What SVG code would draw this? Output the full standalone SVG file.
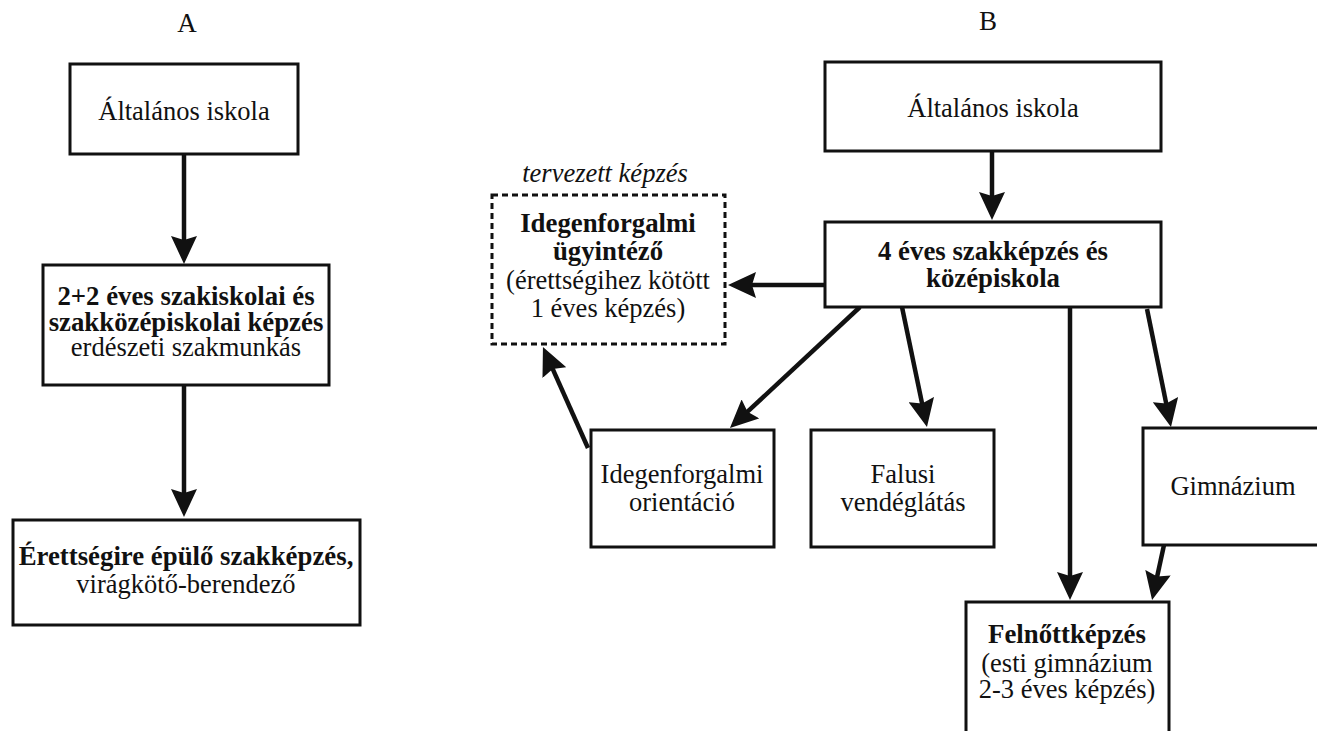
<svg xmlns="http://www.w3.org/2000/svg" width="1317" height="731" viewBox="0 0 1317 731">
<style>
  text { font-family: "Liberation Serif", "Times New Roman", serif; font-size: 26.5px; fill: #111; text-anchor: middle; }
  .b { font-weight: bold; font-size: 26.8px; }
  .i { font-style: italic; }
  .hdr { font-size: 27px; }
  .box { fill: #fff; stroke: #111; stroke-width: 3; }
  .dash { fill: #fff; stroke: #111; stroke-width: 3; stroke-dasharray: 6 4; }
  .arr { stroke: #111; stroke-width: 4.5; fill: none; marker-end: url(#ah); }
</style>
<defs>
  <marker id="ah" viewBox="0 0 28 26" refX="8" refY="13" markerWidth="28" markerHeight="26" markerUnits="userSpaceOnUse" orient="auto">
    <path d="M0,0 L28,13 L0,26 L4,13 z" fill="#111"/>
  </marker>
</defs>
<rect width="1317" height="731" fill="#fff"/>
<text class="hdr" x="187" y="32">A</text>
<text class="hdr" x="988" y="30">B</text>

<g id="connectors">
  <line class="arr" x1="184" y1="154" x2="184" y2="244"/>
  <line class="arr" x1="184" y1="385" x2="184" y2="497"/>
  <line class="arr" x1="992" y1="151" x2="992" y2="200"/>
  <line class="arr" x1="825" y1="285" x2="748" y2="285"/>
  <line class="arr" x1="860" y1="307" x2="744.6" y2="414.4"/>
  <line class="arr" x1="902" y1="307" x2="922.9" y2="407.4"/>
  <line class="arr" x1="1070" y1="307" x2="1070" y2="580"/>
  <line class="arr" x1="1147" y1="309" x2="1167" y2="407.4"/>
  <line class="arr" x1="1164" y1="545" x2="1156.3" y2="580.5"/>
  <line class="arr" x1="588" y1="448" x2="551.1" y2="365.3"/>
</g>

<g id="a-altalanos">
  <rect class="box" x="70" y="64" width="228" height="90"/>
  <text x="184" y="120">Általános iskola</text>
</g>
<g id="a-szakiskola">
  <rect class="box" x="43" y="265" width="286" height="120"/>
  <text class="b" x="186" y="305">2+2 éves szakiskolai és</text>
  <text class="b" x="186" y="331">szakközépiskolai képzés</text>
  <text x="186" y="356">erdészeti szakmunkás</text>
</g>
<g id="a-erettsegi">
  <rect class="box" x="13" y="520" width="347" height="105"/>
  <text class="b" x="186" y="565">Érettségire épülő szakképzés,</text>
  <text x="186" y="593">virágkötő-berendező</text>
</g>

<g id="b-altalanos">
  <rect class="box" x="825" y="62" width="336" height="89"/>
  <text x="993" y="117">Általános iskola</text>
</g>
<g id="b-4eves">
  <rect class="box" x="825" y="222" width="336" height="85"/>
  <text class="b" x="993" y="260">4 éves szakképzés és</text>
  <text class="b" x="993" y="287">középiskola</text>
</g>
<g id="b-ugyintezo">
  <text class="i" x="605" y="182">tervezett képzés</text>
  <rect class="dash" x="492" y="195" width="233" height="149"/>
  <text class="b" x="608" y="232">Idegenforgalmi</text>
  <text class="b" x="608" y="260">ügyintéző</text>
  <text x="608" y="289">(érettségihez kötött</text>
  <text x="608" y="317">1 éves képzés)</text>
</g>
<g id="b-orientacio">
  <rect class="box" x="591" y="430" width="183" height="117"/>
  <text x="682" y="483">Idegenforgalmi</text>
  <text x="682" y="511">orientáció</text>
</g>
<g id="b-falusi">
  <rect class="box" x="811" y="430" width="183" height="117"/>
  <text x="903" y="483">Falusi</text>
  <text x="903" y="511">vendéglátás</text>
</g>
<g id="b-gimnazium">
  <rect class="box" x="1143" y="428" width="185" height="117"/>
  <text x="1233" y="495">Gimnázium</text>
</g>
<g id="b-felnott">
  <rect class="box" x="966" y="602" width="203" height="140"/>
  <text class="b" x="1067" y="643">Felnőttképzés</text>
  <text x="1067" y="672">(esti gimnázium</text>
  <text x="1067" y="698">2-3 éves képzés)</text>
</g>
</svg>
